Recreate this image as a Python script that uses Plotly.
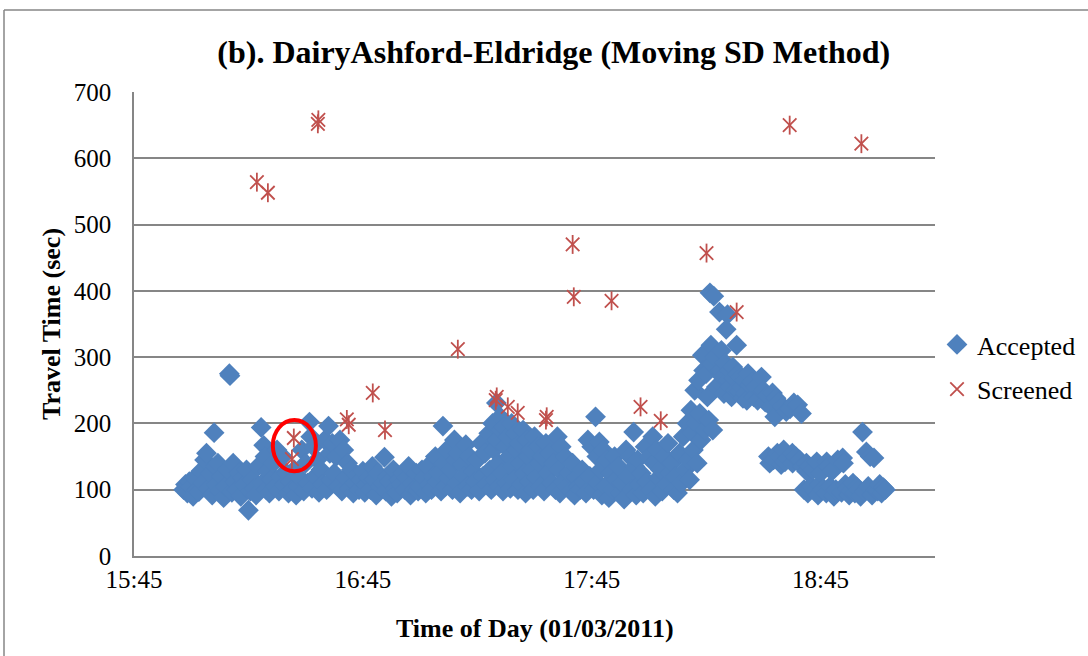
import plotly.graph_objects as go

DAY = "2011-01-03 "

# Accepted travel times (time of day, seconds)
acc_time = [
"15:58:00","15:58:30","15:59:00","15:59:30","16:00:00","16:00:30","16:01:00","16:01:30","16:02:00","16:02:30",
"16:03:00","16:03:30","16:04:00","16:04:30","16:05:00","16:05:30","16:06:00","16:06:20","16:06:40","16:07:00",
"16:07:30","16:08:00","16:08:30","16:09:00","16:09:30","16:10:00","16:10:10","16:10:40","16:11:00","16:11:30",
"16:12:00","16:12:30","16:13:00","16:13:30","16:14:00","16:14:30","16:15:00","16:15:30","16:16:00","16:16:30",
"16:17:00","16:17:30","16:18:20","16:18:40","16:19:00","16:19:20","16:19:40","16:20:00","16:20:30","16:21:00",
"16:21:30","16:22:00","16:22:30","16:23:00","16:23:30","16:24:00","16:24:30","16:25:00","16:25:30","16:26:00",
"16:26:30","16:27:00","16:27:30","16:28:00","16:28:30","16:29:00","16:29:30","16:30:00","16:30:30","16:31:00",
"16:31:20","16:31:40","16:32:00","16:32:30","16:33:00","16:33:30","16:34:00","16:34:30","16:35:00","16:35:30",
"16:36:00","16:36:20","16:36:40","16:37:00","16:37:30","16:38:00","16:38:30","16:39:00","16:39:30","16:40:00",
"16:40:30","16:41:00","16:41:30","16:42:00","16:42:30","16:43:00","16:43:30","16:44:00","16:44:30","16:45:00",
"16:45:30","16:46:00","16:46:30","16:47:00","16:47:30","16:48:00","16:48:30","16:49:00","16:49:30","16:50:40",
"16:50:10","16:51:00","16:51:30","16:52:00","16:52:30","16:53:00","16:53:30","16:54:00","16:54:30","16:55:00",
"16:55:30","16:56:00","16:56:30","16:57:00","16:57:30","16:58:00","16:58:30","16:59:00","16:59:30","17:00:00",
"17:00:30","17:01:00","17:01:30","17:02:00","17:02:30","17:03:00","17:03:30","17:04:00","17:04:30","17:05:00",
"17:05:30","17:06:00","17:06:20","17:06:40","17:07:00","17:07:30","17:08:00","17:08:30","17:09:00","17:09:20",
"17:09:40","17:10:00","17:10:30","17:11:00","17:11:30","17:12:00","17:12:30","17:13:00","17:13:30","17:14:00",
"17:14:30","17:15:00","17:15:30","17:16:00","17:16:30","17:17:00","17:17:30","17:18:00","17:18:20","17:18:40",
"17:19:00","17:19:20","17:19:40","17:20:00","17:20:15","17:20:30","17:20:45","17:21:00","17:21:15","17:21:30",
"17:21:45","17:22:00","17:22:20","17:22:40","17:23:00","17:23:20","17:23:40","17:24:00","17:24:20","17:24:40",
"17:25:00","17:25:20","17:25:40","17:26:00","17:26:20","17:26:40","17:27:00","17:27:20","17:27:40","17:28:00",
"17:28:20","17:28:40","17:29:00","17:29:20","17:29:40","17:30:00","17:30:30","17:31:00","17:31:20","17:31:40",
"17:32:00","17:32:30","17:33:00","17:33:30","17:34:00","17:34:30","17:35:00","17:35:30","17:36:00","17:36:20",
"17:36:40","17:37:00","17:37:30","17:38:00","17:38:30","17:39:00","17:39:30","17:40:00","17:40:30","17:41:00",
"17:41:30","17:42:00","17:42:30","17:43:00","17:43:30","17:44:00","17:44:30","17:45:00","17:45:30","17:46:00",
"17:46:20","17:46:40","17:47:00","17:47:20","17:47:40","17:48:00","17:48:30","17:49:00","17:49:30","17:50:00",
"17:50:30","17:51:00","17:51:30","17:52:00","17:52:30","17:53:00","17:53:30","17:54:00","17:54:30","17:55:00",
"17:55:30","17:56:00","17:56:20","17:56:40","17:57:00","17:57:30","17:58:00","17:58:30","17:59:00","17:59:30",
"18:00:00","18:00:30","18:01:00","18:01:20","18:01:40","18:02:00","18:02:30","18:03:00","18:03:30","18:04:00",
"18:04:30","18:05:00","18:05:30","18:06:00","18:06:30","18:07:00","18:07:30","18:08:00","18:08:30","18:09:00",
"18:09:30","18:10:00","18:10:20","18:10:40","18:11:00","18:11:20","18:11:40","18:12:00","18:12:20","18:12:40",
"18:13:00","18:13:20","18:13:40","18:14:00","18:14:20","18:14:40","18:15:00","18:15:20","18:15:40","18:16:00",
"18:16:15","18:16:30","18:16:45","18:17:00","18:17:20","18:17:40","18:18:30","18:18:40","18:18:50","18:19:00",
"18:19:20","18:19:40","18:20:36","18:20:15","18:20:00","18:20:45","18:21:00","18:21:20","18:21:40","18:22:00",
"18:22:20","18:22:40","18:23:00","18:23:20","18:23:40","18:24:00","18:24:20","18:24:40","18:25:00","18:25:20",
"18:25:40","18:26:00","18:26:30","18:27:00","18:27:30","18:28:00","18:28:30","18:29:30","18:29:40","18:30:00",
"18:30:30","18:31:00","18:31:20","18:31:40","18:32:24","18:32:00","18:32:40","18:33:00","18:33:20","18:33:40",
"18:34:00","18:34:20","18:34:40","18:35:00","18:35:20","18:35:40","18:36:00","18:36:30","18:37:00","18:37:36",
"18:37:40","18:38:00","18:38:30","18:39:00","18:39:30","18:40:00","18:40:20","18:40:40","18:41:18","18:41:20",
"18:41:40","18:42:00","18:42:30","18:43:00","18:43:30","18:44:00","18:44:20","18:44:40","18:45:00","18:45:30",
"18:46:36","18:46:30","18:47:00","18:47:30","18:48:00","18:48:30","18:49:00","18:49:30","18:50:48","18:50:30",
"18:51:00","18:51:30","18:52:00","18:52:30","18:53:00","18:53:30","18:54:00","18:54:30","18:55:00","18:55:30",
"18:56:00","18:56:30","18:57:00","18:57:30","18:58:00","18:58:30","18:59:00","18:59:30","19:00:00","19:00:30",
"19:01:00","19:01:30","19:02:00",
]
acc_tt = [
100,108,95,112,104,90,118,100,97,128,
110,145,155,102,125,92,186,135,108,140,
98,120,88,105,130,275,272,96,140,112,
100,125,90,118,108,130,69,98,115,102,
92,135,194,110,167,150,100,128,95,115,
140,105,160,98,120,150,108,125,95,112,
100,130,92,105,118,160,98,140,110,202,
180,102,165,120,145,96,130,108,175,100,
196,155,115,170,125,150,105,175,98,160,
118,140,102,130,95,110,122,100,115,128,
96,108,118,100,135,115,92,125,105,149,
110,98,120,112,90,130,102,95,115,108,
125,100,118,135,92,110,100,125,98,104,
130,118,95,135,108,100,120,150,112,125,
98,196,140,105,160,118,130,100,175,145,
110,155,95,138,120,168,105,150,100,128,
112,145,98,170,120,155,108,185,130,100,
200,160,115,231,175,140,105,210,190,125,
98,195,165,110,180,150,102,200,135,115,
185,160,100,170,140,108,190,125,95,175,
150,112,160,130,100,180,118,165,140,105,
150,98,170,125,155,110,140,100,180,130,
95,165,112,150,105,125,98,140,92,118,
105,100,130,112,95,175,120,165,100,210,
150,110,172,130,92,160,105,145,88,125,
100,150,115,135,95,110,86,160,120,150,
100,187,135,92,145,108,125,95,165,112,
150,100,180,140,90,160,118,130,98,150,
108,170,125,140,100,120,95,155,110,180,
130,200,145,115,220,186,160,250,200,140,
265,215,175,303,280,190,275,240,205,397,
318,290,190,392,300,255,368,280,260,310,
270,245,364,342,291,265,280,255,240,285,
268,250,318,275,248,270,255,238,265,245,
235,275,258,262,240,255,235,270,248,250,
232,242,150,140,246,225,145,210,238,155,
232,150,138,225,160,142,218,148,222,155,
140,231,150,228,145,215,135,100,140,128,
95,135,105,130,98,142,92,108,125,100,
142,95,135,105,128,90,100,145,148,96,
140,108,102,92,98,110,95,104,100,90,
187,97,157,105,150,92,148,100,98,108,
95,103,100,
]

# Screened (rejected) travel times
scr_time = ["16:17:13","16:20:06","16:33:12","16:33:20","16:26:24","16:26:54","16:40:48","16:41:18",
            "16:47:36","16:50:48","17:09:54","17:20:06","17:19:50","17:23:00","17:25:36","17:33:12",
            "17:33:00","17:40:00","17:40:18","17:50:12","17:57:48","18:03:06","18:15:06","18:23:00",
            "18:36:54","18:55:42"]
scr_tt = [564, 548, 652, 658, 146, 178, 206, 198,
          246, 190, 312, 240, 235, 225, 216, 210,
          205, 470, 391, 385, 225, 204, 457, 368,
          650, 622]

# Highlighted (circled) region
circ_time = ["16:21:24", "16:32:41"]
circ_tt = [128, 205]

x_ticks = ["15:45", "16:45", "17:45", "18:45"]
x_range = ["15:45", "19:15"]

BLUE = "#4F81BD"
RED = "#C0504D"
GRID = "#868686"
FONT = "'Liberation Serif', 'Times New Roman', serif"

fig = go.Figure()
fig.add_trace(go.Scatter(
    x=[DAY + t for t in acc_time], y=acc_tt, mode="markers", name="Accepted",
    legendgroup="a",
    marker=dict(symbol="diamond", size=16, color=BLUE, line=dict(width=0)),
))
fig.add_trace(go.Scatter(
    x=[DAY + t for t in scr_time], y=scr_tt, mode="markers", name="Screened",
    legendgroup="s",
    marker=dict(symbol="x-thin-open", size=13.5, color=RED, line=dict(width=1.8, color=RED)),
))
fig.add_trace(go.Scatter(
    x=[DAY + t for t in scr_time], y=scr_tt, mode="markers", name="Screened",
    legendgroup="s", showlegend=False,
    marker=dict(symbol="line-ns-open", size=13.5, color=RED, line=dict(width=1.8, color=RED)),
))

fig.add_shape(type="circle", xref="x", yref="y",
              x0=DAY + circ_time[0], x1=DAY + circ_time[1], y0=circ_tt[0], y1=circ_tt[1],
              line=dict(color="#FF0000", width=4))

# outer chart border (left and top edges; the rest lies outside the picture)
fig.add_shape(type="line", xref="paper", yref="paper",
              x0=(4 - 134) / 801, x1=(4 - 134) / 801, y0=-0.3, y1=(556 - 10) / 464,
              line=dict(color=GRID, width=1.5), layer="below")
fig.add_shape(type="line", xref="paper", yref="paper",
              x0=(4 - 134) / 801, x1=1.3, y0=(556 - 10) / 464, y1=(556 - 10) / 464,
              line=dict(color=GRID, width=1.5), layer="below")

fig.update_layout(
    width=1088, height=656,
    margin=dict(l=134, r=153, t=92, b=100, autoexpand=False),
    paper_bgcolor="white", plot_bgcolor="white",
    font=dict(family=FONT, size=25, color="black"),
    title=dict(text="<b>(b). DairyAshford-Eldridge (Moving SD Method)</b>",
               font=dict(family=FONT, size=32, color="black"),
               xref="paper", x=0.524, xanchor="center",
               yref="container", y=1 - 52 / 656, yanchor="middle"),
    showlegend=True,
    legend=dict(xref="paper", x=(937 - 134) / 801, xanchor="left",
                yref="paper", y=(556 - 367) / 464, yanchor="middle",
                font=dict(family=FONT, size=26, color="black"),
                traceorder="grouped", tracegroupgap=8,
                bgcolor="rgba(0,0,0,0)"),
    xaxis=dict(type="date",
               range=[DAY + x_range[0], DAY + x_range[1]],
               tickvals=[DAY + t for t in x_ticks], ticktext=x_ticks,
               showgrid=False, zeroline=False,
               showline=True, linecolor=GRID, linewidth=1.5,
               ticks="",
               tickfont=dict(family=FONT, size=25, color="black")),
    yaxis=dict(range=[0, 700], dtick=100, tick0=0,
               showgrid=True, gridcolor=GRID, gridwidth=1.5,
               zeroline=False, showline=True, linecolor=GRID, linewidth=1.5,
               ticks="outside", ticklen=16, tickcolor="rgba(0,0,0,0)",
               tickfont=dict(family=FONT, size=25, color="black")),
    annotations=[
        dict(text="<b>Time of Day (01/03/2011)</b>", xref="paper", yref="paper",
             x=0.5, y=(556 - 628) / 464, xanchor="center", yanchor="middle",
             showarrow=False, font=dict(family=FONT, size=26, color="black")),
        dict(text="<b>Travel Time (sec)</b>", xref="paper", yref="paper",
             x=(51 - 134) / 801, y=0.5, xanchor="center", yanchor="middle",
             textangle=-90, showarrow=False, font=dict(family=FONT, size=26, color="black")),
    ],
)

fig.write_html("out.html", config={"displayModeBar": False},
               post_script="document.body.style.margin='0';"
                           "document.body.style.overflow='hidden';"
                           "document.documentElement.style.overflow='hidden';")
